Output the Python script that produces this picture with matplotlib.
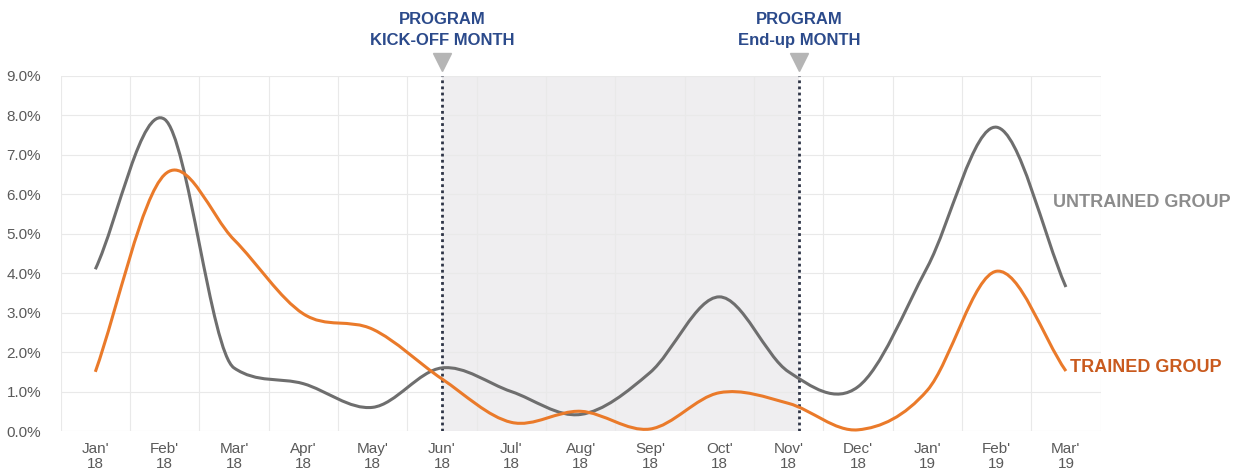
import numpy as np
import matplotlib.pyplot as plt
from matplotlib.path import Path
from matplotlib.patches import PathPatch

months = ["Jan'\n18", "Feb'\n18", "Mar'\n18", "Apr'\n18", "May'\n18", "Jun'\n18", "Jul'\n18",
          "Aug'\n18", "Sep'\n18", "Oct'\n18", "Nov'\n18", "Dec'\n18", "Jan'\n19", "Feb'\n19", "Mar'\n19"]
untrained = [4.1, 7.9, 1.6, 1.2, 0.6, 1.6, 1.0, 0.42, 1.48, 3.4, 1.5, 1.12, 4.15, 7.7, 3.65]
trained = [1.5, 6.5, 4.85, 2.97, 2.58, 1.32, 0.22, 0.5, 0.05, 0.97, 0.7, 0.03, 1.03, 4.05, 1.52]
yticks = [0, 1, 2, 3, 4, 5, 6, 7, 8, 9]
kickoff_idx = 5
endup_idx = 10.15

GREY = '#6e6e6e'
ORANGE = '#ea7a2a'
NAVY = '#2b4a8b'
FONT = ['Liberation Sans Narrow', 'Liberation Sans', 'DejaVu Sans']


def smooth_path(xs, ys):
    # smoothed line as cubic bezier segments, catmull-rom tangents
    # limited on monotone stretches so steep drops don't overshoot
    xs = np.asarray(xs, float)
    ys = np.asarray(ys, float)
    d = np.diff(ys)
    m = np.empty_like(ys)
    m[0], m[-1] = d[0], d[-1]
    for i in range(1, len(ys) - 1):
        m[i] = (ys[i + 1] - ys[i - 1]) / 2
        if d[i - 1] * d[i] > 0:
            lim = 3 * min(abs(d[i - 1]), abs(d[i]))
            m[i] = np.sign(m[i]) * min(abs(m[i]), lim)
    verts = [(xs[0], ys[0])]
    codes = [Path.MOVETO]
    for i in range(len(ys) - 1):
        verts += [(xs[i] + 1 / 3, ys[i] + m[i] / 3),
                  (xs[i + 1] - 1 / 3, ys[i + 1] - m[i + 1] / 3),
                  (xs[i + 1], ys[i + 1])]
        codes += [Path.CURVE4] * 3
    return Path(verts, codes)


plt.rcParams['font.family'] = FONT
fig = plt.figure(figsize=(12.38, 4.76), dpi=100)
ax = fig.add_axes([0.049, 0.0945, 0.84, 0.746])

x = np.arange(len(months))
ax.set_xlim(-0.5, len(months) - 0.5)
ax.set_ylim(0, 9)

ax.axvspan(kickoff_idx, endup_idx, color='#efeef0', zorder=0, lw=0)
for v in np.arange(-0.5, len(months), 1.0):
    ax.axvline(v, color='#e9e9e9', lw=0.8, zorder=0.5)
for t in yticks:
    ax.axhline(t, color='#e9e9e9', lw=0.8, zorder=0.5)

for xv in (kickoff_idx, endup_idx):
    ax.plot([xv, xv], [0, 9], color='#2e3446', lw=2, ls=(0, (1, 1.2)), zorder=2)

for ys, col in ((untrained, GREY), (trained, ORANGE)):
    ax.add_patch(PathPatch(smooth_path(x, ys), facecolor='none', edgecolor=col,
                           lw=2.2, zorder=3, clip_on=False, capstyle='butt'))

ax.set_xticks(x)
ax.set_xticklabels(months, fontsize=11, color='#5a5a5a', linespacing=1.1)
ax.set_yticks(yticks)
ax.set_yticklabels(['%.1f%%' % t for t in yticks], fontsize=11, color='#5a5a5a')
ax.tick_params(length=0)
ax.tick_params(axis='x', pad=8)
ax.tick_params(axis='y', pad=14)
for s in ax.spines.values():
    s.set_visible(False)

ax.plot([kickoff_idx, endup_idx], [9.35, 9.35], ls='none', marker='v', ms=13,
        color='#b5b5b5', clip_on=False)
ax.text(kickoff_idx, 9.72, 'PROGRAM\nKICK-OFF MONTH', ha='center', va='bottom',
        fontsize=12, fontweight='bold', color=NAVY, linespacing=1.45)
ax.text(endup_idx, 9.72, 'PROGRAM\nEnd-up MONTH', ha='center', va='bottom',
        fontsize=12, fontweight='bold', color=NAVY, linespacing=1.45)

ax.text(13.82, 5.79, 'UNTRAINED GROUP', ha='left', va='center', fontsize=13,
        fontweight='bold', color='#8c8c8c')
ax.text(14.06, 1.62, 'TRAINED GROUP', ha='left', va='center', fontsize=13,
        fontweight='bold', color='#c95a1e')

fig.savefig('out.png', dpi=100)
